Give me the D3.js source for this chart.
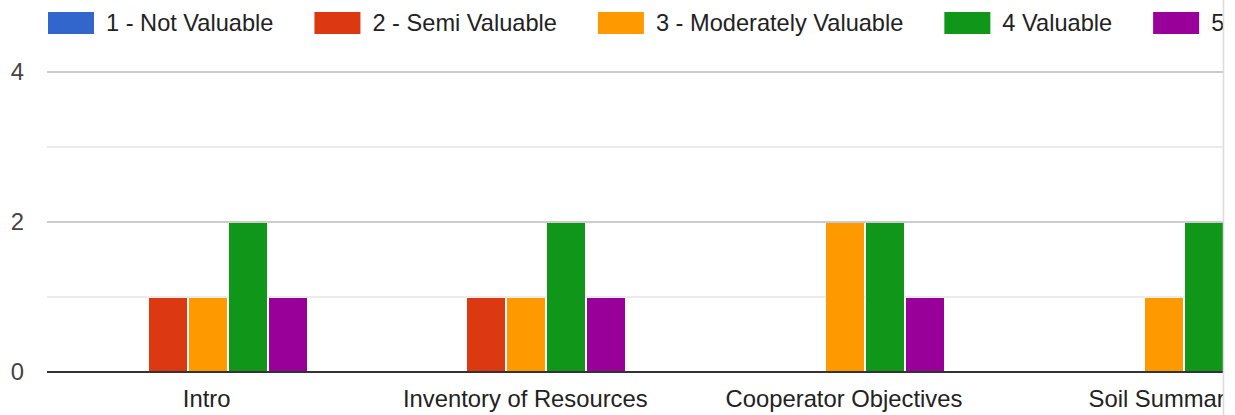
<!DOCTYPE html>
<html>
<head>
<meta charset="utf-8">
<script src="https://cdn.jsdelivr.net/npm/d3@7"></script>
<style>
  html, body { margin: 0; padding: 0; background: #fff; }
  svg { display: block; }
  text { font-family: "Liberation Sans", Arial, sans-serif; }
</style>
</head>
<body>
<svg id="chart" width="1235" height="415"></svg>
<script>
const categories = ["Intro", "Inventory of Resources", "Cooperator Objectives", "Soil Summary"];
const seriesNames = ["1 - Not Valuable", "2 - Semi Valuable", "3 - Moderately Valuable", "4 Valuable", "5"];
const seriesColors = ["#3366cc", "#dc3912", "#ff9900", "#109618", "#990099"];
const notValuable = [0, 0, 0, 0];
const semiValuable = [1, 1, 0, 0];
const moderatelyValuable = [1, 1, 2, 1];
const valuable = [2, 2, 2, 2];
const veryValuable = [1, 1, 1, 1];
const yTicks = [0, 2, 4];
const yGrid = [0, 1, 2, 3, 4];

const seriesValues = [notValuable, semiValuable, moderatelyValuable, valuable, veryValuable];

const W = 1235, H = 415, clipW = 1223;
const svg = d3.select("#chart");
const defs = svg.append("defs");
defs.append("clipPath").attr("id", "clip")
  .append("rect").attr("x", 0).attr("y", 0).attr("width", clipW).attr("height", H);

const g = svg.append("g").attr("clip-path", "url(#clip)");

const plotLeft = 47, bandStart = 47.3, step = 318.67;
const x0 = d3.scaleBand().domain(categories).range([bandStart, bandStart + step * categories.length]);
const x1 = d3.scaleBand().domain(seriesNames).range([0, 200]);
const y = d3.scaleLinear().domain([0, 4]).range([372, 72]);
const fontSize = "23.8px";
const legendFontSize = "23.6px";

// gridlines
g.selectAll("line.grid").data(yGrid.filter(d => d !== 0)).enter().append("line")
  .attr("x1", plotLeft).attr("x2", W)
  .attr("y1", d => y(d)).attr("y2", d => y(d))
  .attr("stroke", d => d % 2 === 0 ? "#cccccc" : "#ebebeb")
  .attr("stroke-width", 2);

// y labels
g.selectAll("text.ytick").data(yTicks).enter().append("text")
  .attr("x", 24).attr("y", d => y(d))
  .attr("dy", "0.35em")
  .attr("text-anchor", "end")
  .attr("font-size", fontSize)
  .attr("fill", "#444444")
  .text(d => d);

// bars
const groups = g.selectAll("g.cat").data(categories).enter().append("g")
  .attr("transform", c => `translate(${Math.round(x0(c) + x0.bandwidth() / 2 - 98)},0)`);

groups.each(function(c, ci) {
  const data = seriesNames.map((s, si) => ({ s, v: seriesValues[si][ci], color: seriesColors[si] }));
  d3.select(this).selectAll("rect").data(data.filter(d => d.v > 0)).enter().append("rect")
    .attr("x", d => x1(d.s))
    .attr("width", x1.bandwidth() - 2)
    .attr("y", d => y(d.v) + 1)
    .attr("height", d => y(0) - 1 - (y(d.v) + 1))
    .attr("fill", d => d.color);
});

// baseline
g.append("line")
  .attr("x1", plotLeft).attr("x2", W)
  .attr("y1", y(0)).attr("y2", y(0))
  .attr("stroke", "#333333").attr("stroke-width", 2);

// category labels
g.selectAll("text.cat").data(categories).enter().append("text")
  .attr("x", c => x0(c) + x0.bandwidth() / 2)
  .attr("y", 407)
  .attr("text-anchor", "middle")
  .attr("font-size", fontSize)
  .attr("fill", "#222222")
  .text(c => c);

// legend
let lx = 48;
seriesNames.forEach((s, i) => {
  g.append("rect").attr("x", lx).attr("y", 12).attr("width", 46).attr("height", 22)
    .attr("fill", seriesColors[i]);
  const t = g.append("text").attr("x", lx + 58).attr("y", 31)
    .attr("font-size", legendFontSize).attr("fill", "#222222").text(s);
  lx += 58 + t.node().getComputedTextLength() + 41;
});

// right border
svg.append("line")
  .attr("x1", clipW + 0.5).attr("x2", clipW + 0.5)
  .attr("y1", 0).attr("y2", H)
  .attr("stroke", "#dadce0").attr("stroke-width", 1.5);
</script>
</body>
</html>
